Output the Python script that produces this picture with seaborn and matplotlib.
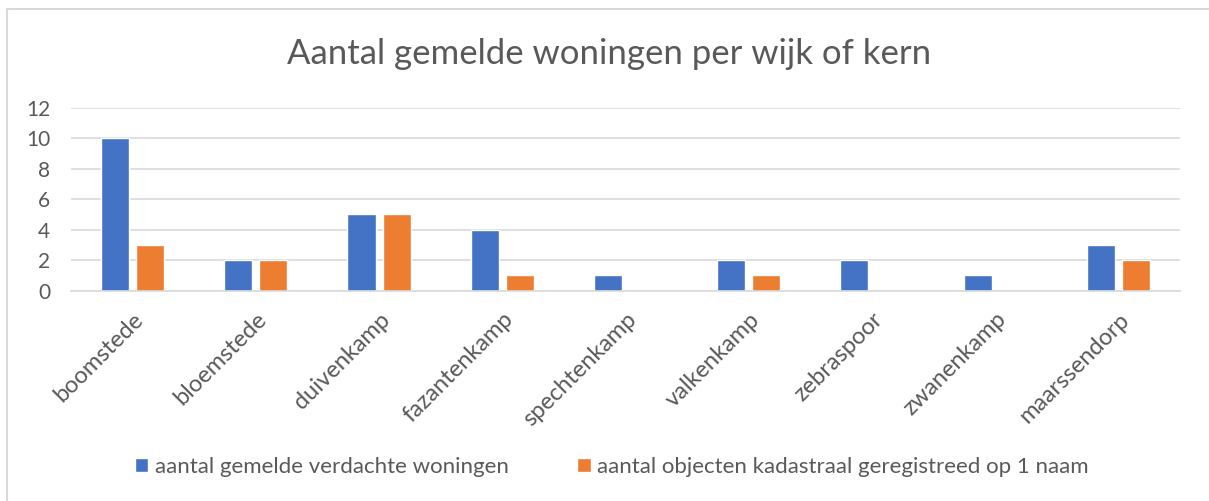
import pandas as pd
import matplotlib.pyplot as plt
import seaborn as sns
from matplotlib.lines import Line2D

# data
wijken = ['boomstede', 'bloemstede', 'duivenkamp', 'fazantenkamp', 'spechtenkamp',
          'valkenkamp', 'zebraspoor', 'zwanenkamp', 'maarssendorp']
gemeld = [10, 2, 5, 4, 1, 2, 2, 1, 3]
kadastraal = [3, 2, 5, 1, 0, 1, 0, 0, 2]
series_names = ['aantal gemelde verdachte woningen',
                'aantal objecten kadastraal geregistreed op 1 naam']

df = pd.DataFrame({
    'wijk': wijken * 2,
    'aantal': gemeld + kadastraal,
    'serie': [series_names[0]] * len(wijken) + [series_names[1]] * len(wijken),
})

sns.set_style('white')
plt.rcParams['font.family'] = ['Lato', 'DejaVu Sans']
grey = '#595959'

fig = plt.figure(figsize=(12.09, 5.01), dpi=100)
ax = fig.add_axes([0.0587, 0.4198, 0.9173, 0.3652])

sns.barplot(data=df, x='wijk', y='aantal', hue='serie', order=wijken,
            palette=['#4472C4', '#ED7D31'], width=0.57, gap=0.2,
            saturation=1, ax=ax)

ax.set_ylim(0, 12)
ax.set_yticks(range(0, 13, 2))
ax.set_xlim(-0.5, len(wijken) - 0.5)
ax.yaxis.grid(True, color='#D9D9D9', linewidth=1.2)
ax.set_axisbelow(True)
for s in ['top', 'right', 'left']:
    ax.spines[s].set_visible(False)
ax.spines['bottom'].set_color('#D9D9D9')
ax.spines['bottom'].set_linewidth(1.2)
ax.set_xlabel('')
ax.set_ylabel('')
ax.tick_params(axis='both', length=0, colors=grey)
ax.tick_params(axis='y', pad=15, labelsize=15)
ax.tick_params(axis='x', pad=13, labelsize=17)
for lbl in ax.get_xticklabels():
    lbl.set_rotation(45)
    lbl.set_ha('right')
    lbl.set_rotation_mode('anchor')

fig.text(0.504, 0.872, 'Aantal gemelde woningen per wijk of kern', ha='center',
         va='baseline', fontsize=25, color=grey)

ax.legend_.remove()
handles, labels = ax.get_legend_handles_labels()
fig.legend(handles, labels, loc='center', bbox_to_anchor=(0.506, 0.068), ncol=2,
           frameon=False, fontsize=16, labelcolor=grey, handlelength=0.6,
           handleheight=0.6, handletextpad=0.3, columnspacing=3.1)

# chart frame: only top and left edges are visible in the crop
fig.add_artist(Line2D([0.006, 1.0], [0.983, 0.983], transform=fig.transFigure,
                      color='#D9D9D9', linewidth=1.5))
fig.add_artist(Line2D([0.006, 0.006], [0.0, 0.983], transform=fig.transFigure,
                      color='#D9D9D9', linewidth=1.5))

fig.savefig('out.png', dpi=100)
